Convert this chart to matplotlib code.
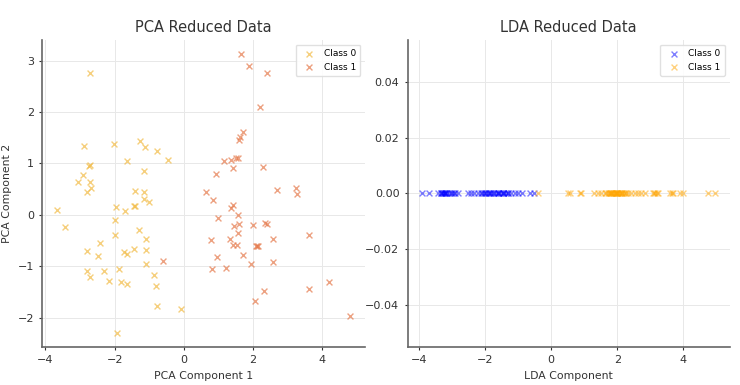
import numpy as np
import matplotlib
matplotlib.use("Agg")
import matplotlib.pyplot as plt

# PCA projection
pca0_x = [-2.71, -2.88, -2.01, -1.26, -1.13, -0.77, -0.45, -1.64, -2.73, -2.72,
          -2.90, -3.07, -2.72, -2.69, -2.80, -1.16, -1.41, -1.14, -1.14, -1.01,
          -1.95, -1.43, -1.42, -3.67, -1.69, -3.43, -1.98, -1.29, -1.99, -2.42,
          -1.08, -2.81, -2.48, -1.72, -1.65, -1.45, -1.08, -1.08, -1.86, -2.79,
          -2.32, -2.72, -2.17, -1.81, -1.64, -0.87, -0.79, -0.77, -0.07, -1.94]
pca0_y = [2.76, 1.34, 1.37, 1.43, 1.31, 1.24, 1.07, 1.05, 0.94, 0.96,
          0.77, 0.63, 0.64, 0.53, 0.45, 0.85, 0.46, 0.44, 0.30, 0.25,
          0.16, 0.17, 0.18, 0.09, 0.07, -0.23, -0.11, -0.30, -0.40, -0.55,
          -0.47, -0.71, -0.81, -0.73, -0.76, -0.67, -0.69, -0.96, -1.06, -1.10,
          -1.10, -1.22, -1.28, -1.31, -1.35, -1.18, -1.39, -1.77, -1.83, -2.30]
pca1_x = [1.66, 1.88, 2.40, 2.19, 1.72, 1.62, 1.60, 1.57, 1.50, 1.37,
          1.17, 1.42, 2.29, 0.93, 2.70, 3.24, 3.26, 0.63, 0.84, 1.43,
          1.37, 1.57, 1.00, 1.99, 1.60, 1.44, 2.35, 2.42, 1.56, 3.61,
          0.78, 1.33, 2.59, 1.42, 1.55, 2.08, 2.13, 2.16, 1.72, 0.95,
          2.59, 1.93, 0.82, 1.22, 4.19, 2.31, 3.62, 2.05, 4.81, -0.59]
pca1_y = [3.13, 2.89, 2.76, 2.10, 1.62, 1.51, 1.46, 1.11, 1.10, 1.06,
          1.05, 0.91, 0.93, 0.80, 0.48, 0.52, 0.41, 0.44, 0.29, 0.20,
          0.14, 0.00, -0.07, -0.19, -0.18, -0.21, -0.16, -0.18, -0.35, -0.39,
          -0.49, -0.47, -0.48, -0.59, -0.59, -0.61, -0.61, -0.61, -0.79, -0.82,
          -0.91, -0.96, -1.06, -1.04, -1.31, -1.48, -1.44, -1.68, -1.97, -0.90]

# LDA projection (single component)
lda0 = [-3.90, -3.70, -3.44, -3.34, -3.30, -3.27, -3.24, -3.21, -3.19, -3.14,
        -3.10, -3.04, -2.99, -2.94, -2.82, -2.53, -2.43, -2.33, -2.23, -2.13,
        -2.08, -2.03, -1.97, -1.92, -1.87, -1.82, -1.77, -1.72, -1.67, -1.62,
        -1.57, -1.52, -1.47, -1.42, -1.37, -1.32, -1.22, -1.11, -0.99, -0.89,
        -0.63, -0.53, -3.20, -2.00, -1.60, -1.45, -2.90, -3.35, -1.85, -1.30]
lda1 = [-0.41, 0.51, 0.56, 0.86, 0.89, 1.30, 1.42, 1.52, 1.62, 1.67,
        1.72, 1.77, 1.82, 1.87, 1.92, 1.97, 2.03, 2.08, 2.13, 2.21,
        2.28, 2.33, 2.43, 2.53, 2.63, 2.73, 2.84, 3.09, 3.14, 3.19,
        3.24, 3.59, 3.65, 3.70, 3.90, 4.00, 4.76, 4.96, 1.85, 1.95,
        2.00, 2.05, 1.75, 2.10, 1.90, 2.25, 3.12, 1.80, 2.15, 1.98]

plt.rcParams["font.family"] = "DejaVu Sans"

fig = plt.figure(figsize=(7.4, 3.85), dpi=100)
ax1 = fig.add_axes([0.057, 0.099, 0.436, 0.797])
ax2 = fig.add_axes([0.551, 0.099, 0.435, 0.797])

ax1.scatter(pca0_x, pca0_y, marker="x", s=18, linewidths=1.0,
            color="#f2bb45", alpha=0.7, label="Class 0")
ax1.scatter(pca1_x, pca1_y, marker="x", s=18, linewidths=1.0,
            color="#e57a4c", alpha=0.7, label="Class 1")
ax1.set_title("PCA Reduced Data", fontsize=10.5, color="#333333")
ax1.set_xlabel("PCA Component 1", fontsize=7.8, color="#333333")
ax1.set_ylabel("PCA Component 2", fontsize=7.8, color="#333333")

ax2.scatter(lda0, np.zeros(len(lda0)), marker="x", s=18, linewidths=1.0,
            color="blue", alpha=0.5, label="Class 0")
ax2.scatter(lda1, np.zeros(len(lda1)), marker="x", s=18, linewidths=1.0,
            color="orange", alpha=0.5, label="Class 1")
ax2.set_title("LDA Reduced Data", fontsize=10.5, color="#333333")
ax2.set_xlabel("LDA Component", fontsize=7.8, color="#333333")

for ax in (ax1, ax2):
    ax.grid(True, color="#e8e8e8", linewidth=0.7)
    ax.set_axisbelow(True)
    for side in ("top", "right"):
        ax.spines[side].set_visible(False)
    for side in ("left", "bottom"):
        ax.spines[side].set_color("#666666")
        ax.spines[side].set_linewidth(1.2)
    ax.tick_params(labelsize=8, colors="#333333", length=2.5, width=0.8)
    ax.legend(loc="upper right", fontsize=6.5, framealpha=0.9,
              edgecolor="#dddddd", handletextpad=0.6, borderpad=0.5)

fig.savefig("out.png", dpi=100)
